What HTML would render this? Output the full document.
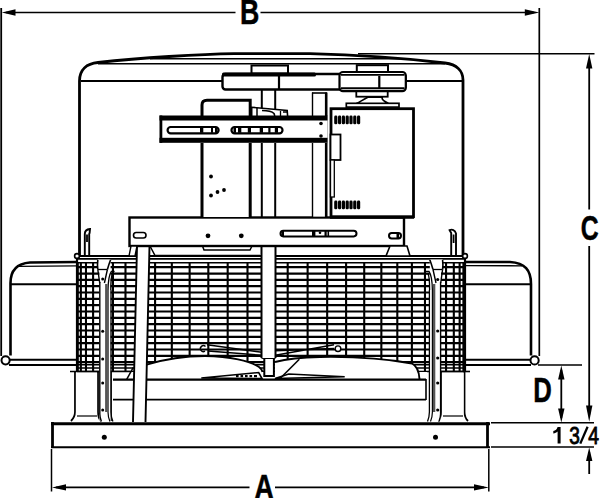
<!DOCTYPE html>
<html><head><meta charset="utf-8">
<style>
html,body{margin:0;padding:0;background:#fff;width:600px;height:498px;overflow:hidden;}
svg{display:block;}
text{font-family:"Liberation Sans",sans-serif;font-weight:bold;}
.n text{font-weight:normal;}
</style></head>
<body>
<svg width="600" height="498" viewBox="0 0 600 498" fill="none" stroke="#000" stroke-linecap="butt">
<rect x="0" y="0" width="600" height="498" fill="#fff" stroke="none"/>

<!-- ===== GRILLE ===== -->
<g>
<line x1="77" y1="267.20" x2="465" y2="267.20" stroke="#000" stroke-width="2.2"/>
<line x1="77" y1="273.53" x2="465" y2="273.53" stroke="#000" stroke-width="2.2"/>
<line x1="77" y1="279.86" x2="465" y2="279.86" stroke="#000" stroke-width="2.2"/>
<line x1="77" y1="286.19" x2="465" y2="286.19" stroke="#000" stroke-width="2.2"/>
<line x1="77" y1="292.52" x2="465" y2="292.52" stroke="#000" stroke-width="2.2"/>
<line x1="77" y1="298.85" x2="465" y2="298.85" stroke="#000" stroke-width="2.2"/>
<line x1="77" y1="305.18" x2="465" y2="305.18" stroke="#000" stroke-width="2.2"/>
<line x1="77" y1="311.51" x2="465" y2="311.51" stroke="#000" stroke-width="2.2"/>
<line x1="77" y1="317.84" x2="465" y2="317.84" stroke="#000" stroke-width="2.2"/>
<line x1="77" y1="324.17" x2="465" y2="324.17" stroke="#000" stroke-width="2.2"/>
<line x1="77" y1="330.50" x2="465" y2="330.50" stroke="#000" stroke-width="2.2"/>
<line x1="77" y1="336.83" x2="465" y2="336.83" stroke="#000" stroke-width="2.2"/>
<line x1="77" y1="343.16" x2="465" y2="343.16" stroke="#000" stroke-width="2.2"/>
<line x1="77" y1="349.49" x2="465" y2="349.49" stroke="#000" stroke-width="2.2"/>
<line x1="77" y1="355.82" x2="465" y2="355.82" stroke="#000" stroke-width="2.2"/>
<line x1="77" y1="362.15" x2="465" y2="362.15" stroke="#000" stroke-width="2.2"/>
<line x1="77" y1="364.70" x2="465" y2="364.70" stroke="#000" stroke-width="1.5"/>
<line x1="77" y1="368.10" x2="465" y2="368.10" stroke="#000" stroke-width="1.5"/>
<line x1="77" y1="371.40" x2="465" y2="371.40" stroke="#000" stroke-width="1.5"/>
<line x1="77.76" y1="263" x2="77.76" y2="371" stroke="#000" stroke-width="2.1"/>
<line x1="80.85" y1="263" x2="80.85" y2="371" stroke="#000" stroke-width="2.1"/>
<line x1="85.98" y1="263" x2="85.98" y2="371" stroke="#000" stroke-width="2.1"/>
<line x1="93.09" y1="263" x2="93.09" y2="371" stroke="#000" stroke-width="2.1"/>
<line x1="102.12" y1="263" x2="102.12" y2="371" stroke="#000" stroke-width="2.1"/>
<line x1="112.95" y1="263" x2="112.95" y2="371" stroke="#000" stroke-width="2.1"/>
<line x1="125.48" y1="263" x2="125.48" y2="371" stroke="#000" stroke-width="2.1"/>
<line x1="139.58" y1="263" x2="139.58" y2="371" stroke="#000" stroke-width="2.1"/>
<line x1="155.08" y1="263" x2="155.08" y2="371" stroke="#000" stroke-width="2.1"/>
<line x1="171.83" y1="263" x2="171.83" y2="371" stroke="#000" stroke-width="2.1"/>
<line x1="189.64" y1="263" x2="189.64" y2="371" stroke="#000" stroke-width="2.1"/>
<line x1="208.32" y1="263" x2="208.32" y2="371" stroke="#000" stroke-width="2.1"/>
<line x1="227.68" y1="263" x2="227.68" y2="371" stroke="#000" stroke-width="2.1"/>
<line x1="247.50" y1="263" x2="247.50" y2="371" stroke="#000" stroke-width="2.1"/>
<line x1="267.58" y1="263" x2="267.58" y2="371" stroke="#000" stroke-width="2.1"/>
<line x1="287.69" y1="263" x2="287.69" y2="371" stroke="#000" stroke-width="2.1"/>
<line x1="307.62" y1="263" x2="307.62" y2="371" stroke="#000" stroke-width="2.1"/>
<line x1="327.16" y1="263" x2="327.16" y2="371" stroke="#000" stroke-width="2.1"/>
<line x1="346.09" y1="263" x2="346.09" y2="371" stroke="#000" stroke-width="2.1"/>
<line x1="364.22" y1="263" x2="364.22" y2="371" stroke="#000" stroke-width="2.1"/>
<line x1="381.35" y1="263" x2="381.35" y2="371" stroke="#000" stroke-width="2.1"/>
<line x1="397.30" y1="263" x2="397.30" y2="371" stroke="#000" stroke-width="2.1"/>
<line x1="411.89" y1="263" x2="411.89" y2="371" stroke="#000" stroke-width="2.1"/>
<line x1="424.97" y1="263" x2="424.97" y2="371" stroke="#000" stroke-width="2.1"/>
<line x1="436.39" y1="263" x2="436.39" y2="371" stroke="#000" stroke-width="2.1"/>
<line x1="446.05" y1="263" x2="446.05" y2="371" stroke="#000" stroke-width="2.1"/>
<line x1="453.82" y1="263" x2="453.82" y2="371" stroke="#000" stroke-width="2.1"/>
<line x1="459.63" y1="263" x2="459.63" y2="371" stroke="#000" stroke-width="2.1"/>
<line x1="463.42" y1="263" x2="463.42" y2="371" stroke="#000" stroke-width="2.1"/>
<line x1="77" y1="258" x2="77" y2="372" stroke="#000" stroke-width="2.2"/>
<line x1="465" y1="258" x2="465" y2="372" stroke="#000" stroke-width="2.2"/>
</g>

<!-- cover area under grille in middle (cone) -->
<path d="M146.7,364.7 C165,359 185,356 205,356 C230,356.5 250,361 259,367 C261,368.5 262,370 262.5,372 L263,380 L146.7,380 Z" fill="#fff" stroke="none"/>
<path d="M275,362 C285,359.5 300,357.5 320,357 C350,356.5 385,358.5 412,363.5 C417,366 419,371 419.5,378 L420,380 L275,380 Z" fill="#fff" stroke="none"/>

<!-- ===== SIDE HOUSINGS ===== -->
<path d="M77,262 L30,262.5 C17,263.5 10.5,270 10.5,283 L10.5,355.5" stroke-width="2.6"/>
<path d="M18,266.3 L77,265.9" stroke-width="1.3"/>
<line x1="11" y1="284.3" x2="77" y2="284.3" stroke-width="2"/>
<line x1="9" y1="359.8" x2="77" y2="359.8" stroke-width="2"/>
<line x1="9" y1="365" x2="77" y2="365" stroke-width="2"/>
<circle cx="5.6" cy="360.3" r="4.1" fill="#fff" stroke-width="2"/>

<path d="M465,262 L510,262 C525,263 531,270 531,284 L531,355.5" stroke-width="2.6"/>
<path d="M465,265.6 L522,265.8" stroke-width="1.3"/>
<line x1="465" y1="284.3" x2="530" y2="284.3" stroke-width="2"/>
<line x1="465" y1="359.8" x2="531" y2="359.8" stroke-width="2"/>
<line x1="465" y1="365" x2="531" y2="365" stroke-width="2"/>
<circle cx="534.6" cy="360.4" r="4.1" fill="#fff" stroke-width="2"/>

<!-- ===== HOOD ===== -->
<path d="M79.5,256 L79.5,81 C79.5,70 86.5,63.5 98,62.5 C140,58 200,54 234,53.6 L310,53.6 C370,55 420,60 445,63 C457,64.5 463,71 463,80 L463,256" stroke-width="2.8"/>
<path d="M150,58.7 L400,58.7" stroke-width="1.4"/>
<path d="M98,63.8 L445,63.8" stroke-width="1.5"/>
<line x1="81" y1="81" x2="222" y2="81" stroke-width="2"/>
<line x1="405" y1="81" x2="462" y2="81" stroke-width="2"/>
<circle cx="77" cy="256" r="2.4" fill="#fff" stroke-width="1.6"/>
<circle cx="465" cy="256" r="2.4" fill="#fff" stroke-width="1.6"/>
<!-- hooks -->
<path d="M84.8,256 L84.8,234 C84.8,231 87,229.3 90,229 L89.6,233 L89.2,234 L89.2,256" stroke-width="1.9" fill="#fff"/>
<line x1="87" y1="234.5" x2="87" y2="242" stroke-width="1.8"/>
<path d="M451.2,256 L451.2,233 L449.6,230.2 C452,229 455,229.8 456,233.5 L456,256" stroke-width="1.9" fill="#fff"/>
<line x1="453.6" y1="234.5" x2="453.6" y2="243" stroke-width="1.8"/>

<!-- grille frame top -->
<line x1="79" y1="256.1" x2="463" y2="256.1" stroke-width="2"/>
<line x1="77" y1="258.8" x2="465" y2="258.8" stroke-width="1.8"/>
<line x1="77" y1="262.8" x2="465" y2="262.8" stroke-width="1.6"/>

<!-- ===== LOWER AREA: legs, inlet, base ===== -->
<!-- white cover for lower region between legs -->
<rect x="111" y="372" width="316" height="50" fill="#fff" stroke="none"/>
<line x1="70" y1="371.5" x2="130" y2="371.5" stroke-width="1.6"/>
<line x1="441" y1="371.5" x2="470" y2="371.5" stroke-width="1.6"/>
<!-- left leg box -->
<path d="M75,372 L75,412 C75,416 73,419 71,421" stroke-width="1.8" fill="none"/>
<path d="M98,372 L98,412 C98,416 99,419 101,421" stroke-width="1.8" fill="none"/>
<rect x="75.9" y="372.8" width="21.2" height="44" fill="#fff" stroke="none"/>
<line x1="77" y1="416" x2="97" y2="416" stroke-width="1.2"/>
<!-- right leg box -->
<path d="M441,372 L441,412 C441,416 440,419 438,421" stroke-width="1.8"/>
<path d="M464.5,372 L464.5,412 C464.5,416 466,419 468,421" stroke-width="1.8"/>
<rect x="441.9" y="372.8" width="21.7" height="44" fill="#fff" stroke="none"/>
<line x1="443" y1="416" x2="463" y2="416" stroke-width="1.2"/>
<!-- box between left strut and band -->
<line x1="111" y1="372" x2="111" y2="421" stroke-width="1.6"/>
<!-- horizontal lines of inlet area -->
<line x1="113" y1="379.6" x2="426" y2="379.6" stroke-width="2.2"/>
<line x1="113" y1="399.6" x2="426" y2="399.6" stroke-width="1.6"/>
<line x1="426" y1="379" x2="426" y2="400" stroke-width="1.6"/>
<!-- inlet cone top arc -->
<path d="M146.7,364.7 C165,359 185,356 205,356 C230,356.5 250,361 259,367 C261,368.5 262,370 262.5,372" stroke-width="1.9"/>
<path d="M275,362 C285,359.5 300,357.5 320,357 C350,356.5 385,358.5 412,363.5 C417,366 419,371 419.5,379" stroke-width="1.9"/>
<path d="M133.3,367.3 L126.7,379.3" stroke-width="1.5"/>

<!-- fan blades -->
<path d="M201.3,378 L258.7,372.5 L262,378.5 Z" fill="#fff" stroke-width="1.6"/>
<path d="M275,378.5 L288.7,374 L344.7,376.7 Z" fill="#fff" stroke-width="1.5"/>
<path d="M279.3,379.3 L299.3,359.3" stroke-width="1.6"/>
<path d="M207,344.7 L262,352.3 M208,351 L262,355.3" stroke-width="1.5"/>
<path d="M205.5,346.5 A3,3 0 1 0 205,351.2" stroke-width="1.4"/>
<path d="M275.3,355.3 L334,344.7 M275.3,350.8 L334,348.5" stroke-width="1.5"/>
<circle cx="338" cy="348.7" r="2.8" fill="#fff" stroke-width="1.4"/>
<g fill="#000" stroke="none">
<rect x="236" y="375" width="2.6" height="2.2"/><rect x="240.5" y="375" width="2.6" height="2.2"/><rect x="245" y="375" width="2.6" height="2.2"/><rect x="249.5" y="375" width="2.6" height="2.2"/><rect x="254" y="375" width="3" height="2.2"/>
</g>
<!-- hub -->
<rect x="264.3" y="358" width="9.6" height="18" fill="#fff" stroke-width="2"/>
<line x1="261.5" y1="358" x2="275.5" y2="358" stroke-width="1.8"/>

<!-- shaft (white band with edges) from bracket down to hub -->
<rect x="262" y="246" width="13.5" height="112" fill="#fff" stroke="none"/>
<line x1="261.5" y1="246" x2="261.5" y2="358" stroke-width="2"/>
<line x1="275.5" y1="246" x2="275.5" y2="358" stroke-width="2"/>

<!-- diagonal white band (left) -->
<path d="M137,246 L149.5,246 L145.5,422 L133,422 Z" fill="#fff" stroke="none"/>
<path d="M137,246 L133,422 M149.5,246 L145.5,422" stroke-width="1.9"/>

<!-- hood struts -->
<g transform="translate(540.4,0) scale(-1,1)">
<rect x="429.8" y="262" width="11.2" height="159" fill="#fff" stroke="none"/>
<path d="M429.8,259.5 L442.6,259.5 C443,263 443,266 442.6,269.5 L433,269.5 C432,266 431,263 429.8,259.5 Z" fill="#fff" stroke="none"/>
<path d="M429.8,259.8 C431,263 432,266 433,269.5 M442.6,259.8 C443,263 443,266 442.6,269.5" stroke-width="1.6"/>
<line x1="433" y1="269.5" x2="442.6" y2="269.5" stroke-width="1.3"/>
<path d="M433,269.5 L436,283 M442.6,269.5 L440.7,283" stroke-width="1.4"/>
<path d="M425.8,271.3 L429,271.3 C431,274 432.2,280 432.4,290 M426.2,273.6 L428,273.6 C429.3,276 429.6,282 429.6,290" stroke-width="1.3"/>
<path d="M429.4,290 L429.4,412 C429.4,416 428.5,419 427.5,421.5" stroke-width="1.3"/>
<path d="M432.4,290 L432.4,412 C432.4,416 431.5,419 430.5,421.5" stroke-width="1.2"/>
<rect x="432.9" y="284" width="2.4" height="128" fill="#555" stroke="none"/>
<path d="M440.6,282 L440.6,414 C440.6,417 440,419 439,421.5" stroke-width="1.4"/>
</g>
<rect x="429.8" y="262" width="11.2" height="159" fill="#fff" stroke="none"/>
<path d="M429.8,259.5 L442.6,259.5 C443,263 443,266 442.6,269.5 L433,269.5 C432,266 431,263 429.8,259.5 Z" fill="#fff" stroke="none"/>
<path d="M429.8,259.8 C431,263 432,266 433,269.5 M442.6,259.8 C443,263 443,266 442.6,269.5" stroke-width="1.6"/>
<line x1="433" y1="269.5" x2="442.6" y2="269.5" stroke-width="1.3"/>
<path d="M433,269.5 L436,283 M442.6,269.5 L440.7,283" stroke-width="1.4"/>
<path d="M425.8,271.3 L429,271.3 C431,274 432.2,280 432.4,290 M426.2,273.6 L428,273.6 C429.3,276 429.6,282 429.6,290" stroke-width="1.3"/>
<path d="M429.4,290 L429.4,412 C429.4,416 428.5,419 427.5,421.5" stroke-width="1.3"/>
<path d="M432.4,290 L432.4,412 C432.4,416 431.5,419 430.5,421.5" stroke-width="1.2"/>
<rect x="432.9" y="284" width="2.4" height="128" fill="#555" stroke="none"/>
<path d="M440.6,282 L440.6,414 C440.6,417 440,419 439,421.5" stroke-width="1.4"/>
<g fill="#000" stroke="none">
<circle cx="102.7" cy="279" r="1.5"/><circle cx="102.7" cy="331.3" r="1.5"/><circle cx="102.7" cy="359" r="1.5"/><circle cx="102.7" cy="383" r="1.5"/><circle cx="102.7" cy="410" r="1.5"/>
<circle cx="437.7" cy="279.5" r="1.6"/><circle cx="437.7" cy="331" r="1.6"/><circle cx="437.7" cy="358" r="1.6"/><circle cx="437.7" cy="383" r="1.6"/><circle cx="437.7" cy="410" r="1.6"/>
</g>

<!-- BASE -->
<rect x="52.5" y="423.8" width="435" height="22.5" fill="#fff" stroke="none"/>
<line x1="51" y1="423.7" x2="490" y2="423.7" stroke-width="3"/>
<line x1="52.5" y1="422" x2="52.5" y2="447.5" stroke-width="2.8"/>
<line x1="487.5" y1="422" x2="487.5" y2="447.5" stroke-width="2.8"/>
<line x1="51" y1="447.2" x2="490" y2="447.2" stroke-width="2"/>
<circle cx="104.3" cy="437.3" r="2.5" fill="#000" stroke="none"/>
<circle cx="435.5" cy="437.3" r="2.5" fill="#000" stroke="none"/>

<!-- ===== MOTOR ASSEMBLY ===== -->
<!-- lower bracket (cross bar) -->
<rect x="129.5" y="217.5" width="274.5" height="28.5" fill="#fff" stroke-width="2.4"/>
<circle cx="208" cy="235.8" r="2.4" fill="#000" stroke="none"/>
<circle cx="241.3" cy="235.8" r="2.4" fill="#000" stroke="none"/>
<rect x="133.5" y="232.5" width="12.5" height="5.5" rx="2.7" stroke-width="1.6"/>
<rect x="280.5" y="230.8" width="76" height="5.6" rx="2.8" stroke-width="2"/>
<g fill="#000" stroke="none"><rect x="312" y="231" width="3.4" height="5.2"/><rect x="324.5" y="231" width="2.2" height="5.2"/><rect x="327.5" y="231" width="1.6" height="5.2"/><circle cx="320" cy="232.8" r="1.3"/><rect x="281.5" y="231" width="2.5" height="5.2"/></g>
<rect x="389" y="233" width="12" height="5.5" rx="2.7" stroke-width="2"/>
<rect x="396.5" y="233.5" width="2.5" height="4.5" fill="#000" stroke="none"/>
<!-- bracket feet -->
<path d="M131,246 L137,246 L135,256 L129,256 Z" fill="#fff" stroke-width="1.4"/>
<path d="M390,246 L407,246 L410,256 L386,256 Z" fill="#fff" stroke-width="1.6"/>
<path d="M150,246 L155,255.5 L260,255.5 M202.5,246 L204,250 L250,250 L252,246" stroke-width="1.5"/>

<!-- left motor -->
<path d="M202,217 L202,105 C202,102 204,100.2 207,100.2 L250.2,100.2 L250.2,217" fill="#fff" stroke-width="3"/>
<g fill="#000" stroke="none">
<circle cx="211" cy="176.5" r="1.9"/><circle cx="211" cy="195.5" r="1.9"/><circle cx="217.5" cy="192" r="1.9"/><circle cx="224" cy="190" r="1.9"/>
</g>

<!-- shaft above -->
<rect x="262.5" y="90" width="12" height="126" fill="#fff" stroke="none"/>
<line x1="261.8" y1="90" x2="261.8" y2="217" stroke-width="2"/>
<line x1="275.2" y1="90" x2="275.2" y2="217" stroke-width="2"/>
<path d="M251.7,116 L251.7,107.3 L287.2,110.4 L287.6,116" fill="#fff" stroke-width="1.6"/>
<line x1="257" y1="108" x2="257" y2="116" stroke-width="1.5"/>
<path d="M262,110.5 C268,110.5 272,111.5 274,113.5 L274.8,116" stroke-width="1.6"/>
<path d="M280.5,111 L280.5,116 M283,112 L287,112" stroke-width="1.3"/>
<!-- post -->
<rect x="312" y="92.5" width="14.5" height="124" fill="#fff" stroke="none"/>
<line x1="312.5" y1="92.5" x2="312.5" y2="217" stroke-width="1.4"/>
<line x1="326.2" y1="92.5" x2="326.2" y2="217" stroke-width="2.6"/>
<line x1="312" y1="93" x2="327" y2="93" stroke-width="1.6"/>

<!-- upper slotted bracket -->
<rect x="160.5" y="116" width="167" height="27" fill="#fff" stroke="none"/>
<rect x="159.5" y="115.5" width="168" height="5" fill="#000" stroke="none"/>
<rect x="159.5" y="137.8" width="168" height="5" fill="#000" stroke="none"/>
<rect x="159.5" y="115.5" width="2.8" height="27.3" fill="#000" stroke="none"/>
<rect x="167.6" y="127" width="51" height="6.3" rx="3.1" stroke-width="2.2"/>
<rect x="231.5" y="127" width="51" height="6.3" rx="3.1" stroke-width="2.2"/>
<g fill="#000" stroke="none">
<rect x="200" y="127.5" width="3.3" height="5.3"/><rect x="211" y="127.5" width="2" height="5.3"/><rect x="215" y="127.5" width="2.5" height="5.3"/>
<rect x="233.5" y="127.5" width="2.5" height="5.3"/><rect x="238" y="127.5" width="3.3" height="5.3"/><rect x="247.8" y="127.5" width="3.2" height="5.3"/><rect x="259.7" y="127.5" width="3.3" height="5.3"/><rect x="268.3" y="127.5" width="2.2" height="5.3"/><rect x="274.8" y="127.5" width="3.2" height="5.3"/>
</g>
<circle cx="321" cy="123.5" r="1.8" fill="#000" stroke="none"/>
<circle cx="321" cy="136" r="1.8" fill="#000" stroke="none"/>

<!-- right motor -->
<rect x="331" y="108.7" width="82.5" height="108" fill="#fff" stroke-width="2.8"/>
<rect x="330.5" y="134.5" width="10" height="25.5" fill="#fff" stroke-width="1.8"/>
<rect x="330.5" y="160" width="3.8" height="37" fill="#fff" stroke-width="1.3"/>
<g fill="#000" stroke="none">
<rect x="334.2" y="115.5" width="3.2" height="8.8" rx="1.4"/><rect x="338.0" y="115.5" width="3.2" height="8.8" rx="1.4"/><rect x="341.8" y="115.5" width="3.2" height="8.8" rx="1.4"/><rect x="345.6" y="115.5" width="3.2" height="8.8" rx="1.4"/><rect x="349.4" y="115.5" width="3.2" height="8.8" rx="1.4"/><rect x="353.2" y="115.5" width="3.2" height="8.8" rx="1.4"/><rect x="357.0" y="115.5" width="3.2" height="8.8" rx="1.4"/>
<rect x="334.2" y="200.5" width="3.2" height="8.8" rx="1.4"/><rect x="338.0" y="200.5" width="3.2" height="8.8" rx="1.4"/><rect x="341.8" y="200.5" width="3.2" height="8.8" rx="1.4"/><rect x="345.6" y="200.5" width="3.2" height="8.8" rx="1.4"/><rect x="349.4" y="200.5" width="3.2" height="8.8" rx="1.4"/><rect x="353.2" y="200.5" width="3.2" height="8.8" rx="1.4"/><rect x="357.0" y="200.5" width="3.2" height="8.8" rx="1.4"/>
</g>
<line x1="330" y1="217.5" x2="414" y2="217.5" stroke-width="2.4"/>
<!-- motor top cap -->
<rect x="346.3" y="103.3" width="52.7" height="3.8" fill="#fff" stroke-width="1.7"/>
<path d="M367.7,97.2 C364,99.5 360,101.5 357,103.3 L388.3,103.3 C385,101.5 381,99.5 382.3,97.2 Z" fill="#fff" stroke-width="1.6"/>
<rect x="356.3" y="90.7" width="31.4" height="6" fill="#fff" stroke-width="1.8"/>
<!-- pulleys + belt -->
<rect x="251.5" y="65.5" width="36.5" height="8.2" fill="#fff" stroke-width="2"/>
<rect x="356.8" y="65.2" width="31.2" height="7" fill="#fff" stroke-width="2"/>
<rect x="222.5" y="74" width="183" height="15.5" rx="3" fill="#fff" stroke-width="2.4"/>
<rect x="222" y="72.6" width="94" height="3.8" rx="1.5" fill="#000" stroke="none"/>
<rect x="339.5" y="72" width="66.3" height="19.2" rx="3.5" fill="#fff" stroke-width="2.2"/>
<line x1="341" y1="74.9" x2="404.5" y2="74.9" stroke-width="1.9"/>
<line x1="341" y1="88.2" x2="404.5" y2="88.2" stroke-width="1.9"/>
<line x1="279" y1="75" x2="279" y2="89" stroke-width="2.2"/>
<line x1="379.3" y1="76" x2="379.3" y2="88" stroke-width="2.2"/>

<!-- ===== DIMENSIONS ===== -->
<g stroke-width="1.5">
<line x1="1.2" y1="8" x2="1.2" y2="356" stroke-width="1.8"/>
<line x1="539.3" y1="8" x2="539.3" y2="356" stroke-width="1.7"/>
<line x1="6" y1="12.5" x2="235.5" y2="12.5" stroke-width="1.6"/>
<line x1="260.5" y1="12.5" x2="534" y2="12.5" stroke-width="1.6"/>
<line x1="358" y1="53.7" x2="594.5" y2="53.7"/>
<line x1="589.2" y1="60" x2="589.2" y2="209.5" stroke-width="1.8"/>
<line x1="589.2" y1="246" x2="589.2" y2="415" stroke-width="1.8"/>
<line x1="538" y1="365" x2="582" y2="365"/>
<line x1="561.3" y1="370" x2="561.3" y2="418" stroke-width="1.8"/>
<line x1="491" y1="422.8" x2="594" y2="422.8"/>
<line x1="491" y1="447" x2="594" y2="447"/>
<line x1="589.2" y1="452" x2="589.2" y2="474" stroke-width="1.8"/>
<line x1="51.5" y1="449" x2="51.5" y2="491.5"/>
<line x1="488.8" y1="449" x2="488.8" y2="491.5"/>
<line x1="56" y1="487.4" x2="249.5" y2="487.4" stroke-width="1.6"/>
<line x1="275" y1="487.4" x2="484" y2="487.4" stroke-width="1.6"/>
</g>
<g fill="#000" stroke="none">
<path d="M1.8,12.5 L15.5,9.3 L15.5,15.7 Z"/>
<path d="M539.3,12.5 L524.8,9.3 L524.8,15.7 Z"/>
<path d="M589.2,54 L586,68.5 L592.4,68.5 Z"/>
<path d="M589.2,421.8 L586,405.5 L592.4,405.5 Z"/>
<path d="M561.3,365.5 L558.1,379.5 L564.5,379.5 Z"/>
<path d="M561.3,422.5 L558.1,408.5 L564.5,408.5 Z"/>
<path d="M589.2,447.5 L586,461 L592.4,461 Z"/>
<path d="M52,487.4 L66,484.2 L66,490.6 Z"/>
<path d="M488.8,487.4 L474,484.2 L474,490.6 Z"/>
</g>
<g fill="#000" stroke="none">
<g stroke="#000" stroke-width="0.5">
<text x="0" y="0" font-size="35.2" transform="translate(240,24.2) scale(0.76,1)">B</text>
<text x="0" y="0" font-size="35.4" transform="translate(580.8,240) scale(0.70,1)">C</text>
<text x="0" y="0" font-size="35.2" transform="translate(533.2,401.8) scale(0.73,1)">D</text>
<text x="0" y="0" font-size="35.2" transform="translate(254.2,498.5) scale(0.775,1)">A</text>
</g>
<line x1="580.3" y1="443.6" x2="587.6" y2="426.8" stroke="#000" stroke-width="2.3"/>
<path d="M557.6,426.9 L560.6,426.9 L560.6,443.4 L557.6,443.4 L557.6,431.5 C556.5,432.6 555,433.2 553.3,433.4 L553.3,431 C555.5,430.5 557,429 557.6,426.9 Z" fill="#000" stroke="none"/>
<g class="n" stroke="#000" stroke-width="0.9">
<text x="0" y="0" font-size="23.8" transform="translate(569.3,443.6) scale(0.8,1)">3</text>
<text x="0" y="0" font-size="23.8" transform="translate(588.3,443.6) scale(0.81,1)">4</text>
</g>
</g>

</svg>
</body></html>
